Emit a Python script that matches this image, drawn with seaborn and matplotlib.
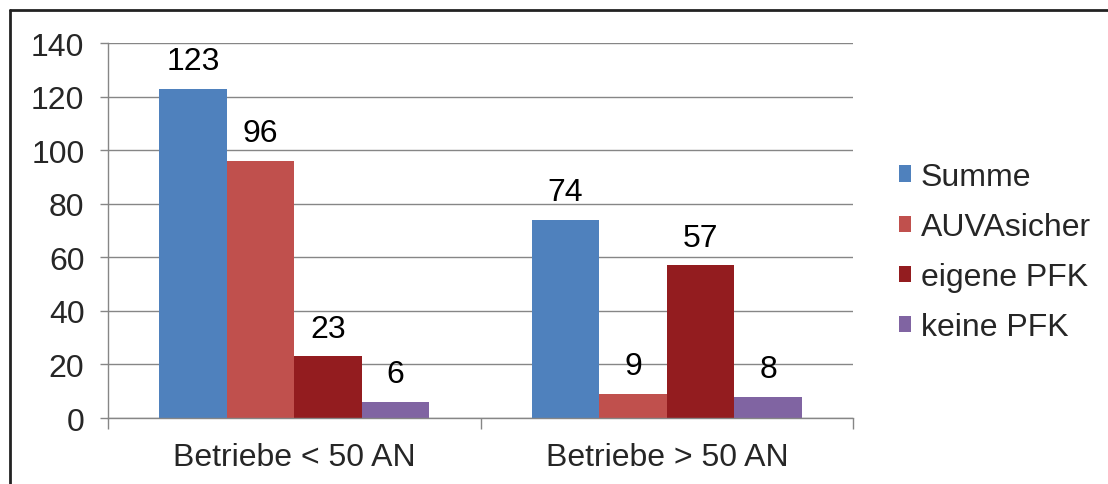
import matplotlib
matplotlib.use("Agg")
import matplotlib.pyplot as plt
from matplotlib.lines import Line2D
import pandas as pd
import seaborn as sns

# Chart data
categories = ["Betriebe < 50 AN", "Betriebe > 50 AN"]
series = ["Summe", "AUVAsicher", "eigene PFK", "keine PFK"]
summe = [123, 74]
auvasicher = [96, 9]
eigene_pfk = [23, 57]
keine_pfk = [6, 8]
colors = ["#4F81BD", "#C0504D", "#931C1F", "#8064A2"]
y_ticks = [0, 20, 40, 60, 80, 100, 120, 140]

values = [summe, auvasicher, eigene_pfk, keine_pfk]
df = pd.DataFrame(
    [(cat, s, v[i]) for s, v in zip(series, values) for i, cat in enumerate(categories)],
    columns=["Kategorie", "Serie", "Wert"],
)

sns.set_theme(style="white")
plt.rcParams["font.family"] = ["Liberation Sans", "DejaVu Sans"]
FS = 23

fig = plt.figure(figsize=(11.08, 4.85), dpi=100)
ax = fig.add_axes([0.0975, 0.136, 0.6725, 0.773])

sns.barplot(
    data=df, x="Kategorie", y="Wert", hue="Serie", order=categories,
    hue_order=series, palette=colors, width=0.725, saturation=1,
    linewidth=0, ax=ax, legend=True,
)

for cont in ax.containers:
    ax.bar_label(cont, fontsize=FS, padding=9, color="black")

ax.set_ylim(0, 140)
ax.set_xlim(-0.5, 1.5)
ax.set_yticks(y_ticks)
ax.set_xlabel("")
ax.set_ylabel("")
ax.grid(axis="y", color="#868686", linewidth=1)
ax.set_axisbelow(True)

for side in ["top", "right"]:
    ax.spines[side].set_visible(False)
for side in ["left", "bottom"]:
    ax.spines[side].set_color("#868686")
    ax.spines[side].set_linewidth(1)

ax.tick_params(axis="y", which="major", length=6, width=1, color="#868686",
               labelsize=FS, pad=11, left=True, direction="out")
ax.set_xticks([-0.5, 0.5, 1.5], minor=True)
ax.tick_params(axis="x", which="minor", length=8, width=1, color="#868686",
               bottom=True, direction="out")
ax.tick_params(axis="x", which="major", length=0, labelsize=FS, pad=17)

handles, labels = ax.get_legend_handles_labels()
ax.legend(handles, labels, loc="center left", bbox_to_anchor=(0.785, 0.478),
          bbox_transform=fig.transFigure, frameon=False, fontsize=FS,
          handlelength=0.4, handleheight=0.4, handletextpad=0.3,
          labelspacing=0.63)

# Outer frame (top and left edges)
fig.add_artist(Line2D([0.009, 1.0], [0.977, 0.977], transform=fig.transFigure,
                      color="#222222", linewidth=2))
fig.add_artist(Line2D([0.009, 0.009], [0.0, 0.977], transform=fig.transFigure,
                      color="#222222", linewidth=2))

fig.savefig("out.png", dpi=100)
